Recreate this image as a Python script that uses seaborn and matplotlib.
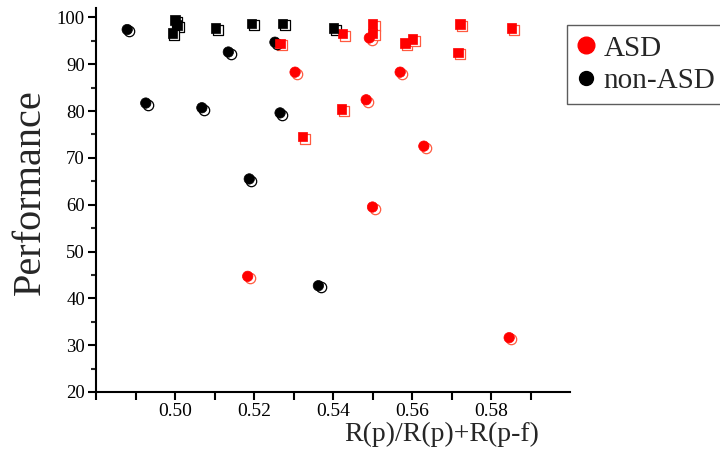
import numpy as np
import pandas as pd
import matplotlib
matplotlib.use("Agg")
import matplotlib.pyplot as plt
import matplotlib.transforms as mtransforms
from matplotlib.lines import Line2D
import seaborn as sns

# ASD group
asd_circle_x = [0.5304, 0.5492, 0.5570, 0.5484, 0.5630, 0.5500, 0.5184, 0.5846]
asd_circle_y = [88.3, 95.6, 88.3, 82.4, 72.5, 59.5, 44.7, 31.6]
asd_square_x = [0.5266, 0.5323, 0.5424, 0.5422, 0.5500, 0.5500, 0.5582, 0.5601,
                0.5722, 0.5716, 0.5852]
asd_square_y = [94.4, 74.5, 96.5, 80.4, 98.6, 96.6, 94.5, 95.4, 98.6, 92.5, 97.7]

# non-ASD group
non_circle_x = [0.4879, 0.5253, 0.5135, 0.4926, 0.5068, 0.5266, 0.5188, 0.5363]
non_circle_y = [97.4, 94.7, 92.6, 81.7, 80.7, 79.6, 65.5, 42.7]
non_square_x = [0.5000, 0.5005, 0.4993, 0.5103, 0.5194, 0.5272, 0.5402]
non_square_y = [99.4, 98.4, 96.7, 97.7, 98.7, 98.7, 97.7]

groups = ["ASD", "non-ASD"]
palette = {"ASD": "#ff0000", "non-ASD": "#000000"}
shadow_colors = {"ASD": "#ff5a40", "non-ASD": "#000000"}


def build_frame():
    parts = []
    for grp, shp, xs, ys in [("ASD", "circle", asd_circle_x, asd_circle_y),
                             ("ASD", "square", asd_square_x, asd_square_y),
                             ("non-ASD", "circle", non_circle_x, non_circle_y),
                             ("non-ASD", "square", non_square_x, non_square_y)]:
        parts.append(pd.DataFrame({"x": xs, "y": ys, "group": grp, "shape": shp}))
    return pd.concat(parts, ignore_index=True)


df = build_frame()

sns.set_style("ticks")
plt.rcParams["font.family"] = ["Liberation Serif", "DejaVu Serif"]

fig = plt.figure(figsize=(7.2, 4.49), dpi=100)
ax = fig.add_axes([96 / 720, 1 - 392 / 449, 474 / 720, 384 / 449])

markers = {"circle": "o", "square": "s"}
sizes = {"circle": 56, "square": 46}

# offset hollow "shadow" markers, drawn beneath the filled ones
shift = ax.transData + mtransforms.ScaledTranslation(0.022, -0.018, fig.dpi_scale_trans)
for grp in groups:
    for shp in ["circle", "square"]:
        sub = df[(df["group"] == grp) & (df["shape"] == shp)]
        ax.scatter(sub["x"], sub["y"], marker=markers[shp], s=sizes[shp],
                   facecolor="white", edgecolor=shadow_colors[grp], linewidth=0.9,
                   transform=shift, zorder=2)

for shp in ["circle", "square"]:
    sub = df[df["shape"] == shp]
    sns.scatterplot(data=sub, x="x", y="y", hue="group", palette=palette,
                    marker=markers[shp], s=sizes[shp], edgecolor="face",
                    linewidth=0.5, legend=False, ax=ax, zorder=3)

ax.set_xlim(0.48, 0.60)
ax.set_ylim(20, 102)

xticks = np.round(np.arange(0.48, 0.595, 0.01), 2)
ax.set_xticks(xticks)
ax.set_xticklabels([f"{t:.2f}" if (0.495 < t < 0.585 and round(t * 100) % 2 == 0) else ""
                    for t in xticks])
ax.set_yticks(range(20, 101, 10))
ax.set_yticks(range(25, 100, 10), minor=True)

ax.tick_params(axis="both", which="major", direction="out", length=6, width=1.5,
               labelsize=13.5, colors="black", pad=2)
ax.tick_params(axis="y", which="minor", direction="out", length=3.5, width=1.5)
ax.tick_params(axis="x", labelsize=14)

for side in ["left", "bottom"]:
    ax.spines[side].set_linewidth(1.5)
    ax.spines[side].set_color("black")
sns.despine(ax=ax)

ax.set_xlabel("R(p)/R(p)+R(p-f)", fontsize=20)
ax.xaxis.set_label_coords(0.73, -0.078)
ax.set_ylabel("Performance", fontsize=29)
ax.yaxis.set_label_coords(-0.10, 0.52)

handles = [Line2D([], [], marker="o", linestyle="none", color="#ff0000", markersize=12),
           Line2D([], [], marker="o", linestyle="none", color="#000000", markersize=10)]
leg = fig.legend(handles, groups, loc="upper left",
                 bbox_to_anchor=(567 / 720, 1 - 25 / 449), fontsize=21,
                 frameon=True, fancybox=False, handlelength=0.6, handletextpad=0.3,
                 borderpad=0.35, labelspacing=0.2, borderaxespad=0)
leg.get_frame().set_edgecolor("#333333")
leg.get_frame().set_linewidth(1.0)

fig.savefig("out.png", dpi=100)
